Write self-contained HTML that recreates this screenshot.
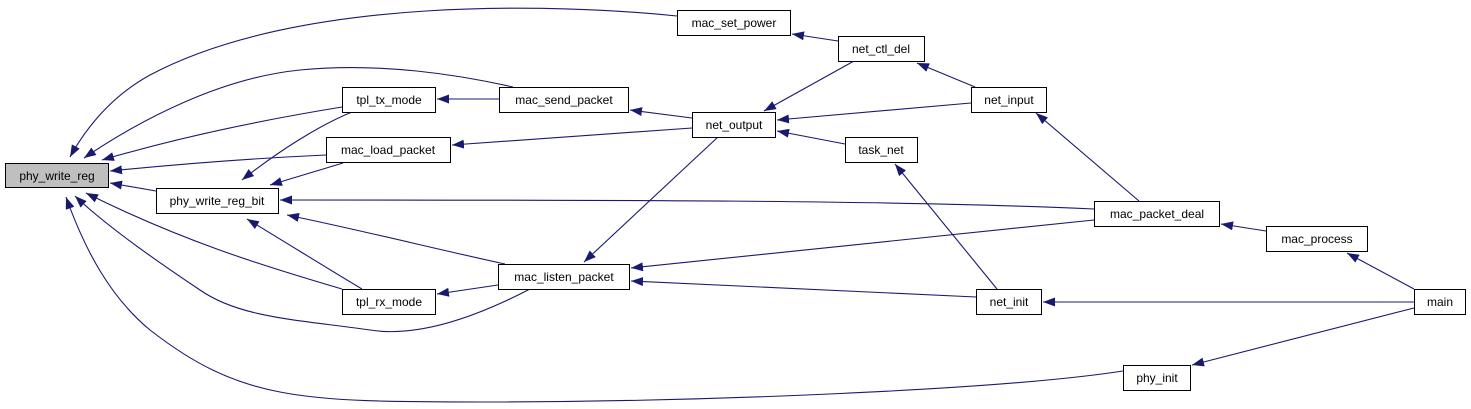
<!DOCTYPE html>
<html><head><meta charset="utf-8"><style>
html,body{margin:0;padding:0;background:#fff;}
svg{display:block;}
text{font-family:"Liberation Sans",Arial,sans-serif;font-size:12px;fill:#000;}
</style></head><body>
<svg width="1471" height="409" viewBox="0 0 1471 409" xmlns="http://www.w3.org/2000/svg">
<defs>
<marker id="a" viewBox="0 0 12 9" refX="12" refY="4.5" markerWidth="12" markerHeight="9" markerUnits="userSpaceOnUse" orient="auto">
<path d="M0,0 L12,4.5 L0,9 z" fill="#191970"/>
</marker>
</defs>
<g fill="none" stroke="#191970" stroke-width="1.1" marker-end="url(#a)">
<path d="M677,16 C560,4 300,-5 150,75 C110,97 85,130 70,157"/>
<path d="M513,87 C460,75 380,62 300,70 C220,78 140,120 84,158"/>
<path d="M342,107 C250,122 170,140 102,160"/>
<path d="M326,155 C260,158 180,164 110,171"/>
<path d="M156,191 L110,183"/>
<path d="M342,289 C260,265 180,240 86,193"/>
<path d="M530,289 C480,315 420,338 370,330 C300,320 240,318 200,290 C140,250 100,220 75,196"/>
<path d="M1123,371 C1000,390 700,402 480,402 C300,402 240,400 150,330 C110,297 85,250 66,197"/>
<path d="M352,112 C320,125 280,150 242,180"/>
<path d="M343,163 L270,185"/>
<path d="M1094,209 C900,200 600,200 280,200"/>
<path d="M505,264 C440,250 360,230 287,215"/>
<path d="M362,289 C330,270 290,245 247,219"/>
<path d="M499,99 L437,99"/>
<path d="M498,285 L437,294"/>
<path d="M692,128 L452,145"/>
<path d="M692,118 L630,110"/>
<path d="M838,41 L792,34"/>
<path d="M854,61 L764,111"/>
<path d="M971,103 L777,120"/>
<path d="M845,144 L777,131"/>
<path d="M718,137 L584,262"/>
<path d="M975,87 L917,63"/>
<path d="M1139,201 L1036,113"/>
<path d="M997,289 L895,164"/>
<path d="M1094,220 L631,268"/>
<path d="M976,297 L631,281"/>
<path d="M1266,231 L1221,224"/>
<path d="M1414,289 L1347,253"/>
<path d="M1414,302 L1043,302"/>
<path d="M1414,308 L1192,365"/>
</g>
<g stroke="#000" stroke-width="1" fill="#fff">
<rect x="5.5" y="163.5" width="103" height="24" fill="#bfbfbf"/>
<rect x="342.5" y="87.5" width="93" height="25"/>
<rect x="326.5" y="137.5" width="124" height="25"/>
<rect x="156.5" y="188.5" width="122" height="25"/>
<rect x="342.5" y="289.5" width="93" height="25"/>
<rect x="677.5" y="10.5" width="113" height="25"/>
<rect x="838.5" y="36.5" width="86" height="25"/>
<rect x="499.5" y="87.5" width="129" height="25"/>
<rect x="692.5" y="112.5" width="83" height="25"/>
<rect x="971.5" y="87.5" width="75" height="25"/>
<rect x="845.5" y="137.5" width="72" height="25"/>
<rect x="498.5" y="264.5" width="131" height="25"/>
<rect x="976.5" y="289.5" width="65" height="25"/>
<rect x="1094.5" y="201.5" width="125" height="25"/>
<rect x="1266.5" y="226.5" width="101" height="25"/>
<rect x="1414.5" y="289.5" width="51" height="25"/>
<rect x="1123.5" y="365.5" width="67" height="25"/>
</g>
<g text-anchor="middle">
<text x="57" y="180">phy_write_reg</text>
<text x="389" y="104">tpl_tx_mode</text>
<text x="388" y="154">mac_load_packet</text>
<text x="217" y="205">phy_write_reg_bit</text>
<text x="389" y="306">tpl_rx_mode</text>
<text x="734" y="27">mac_set_power</text>
<text x="881" y="53">net_ctl_del</text>
<text x="564" y="104">mac_send_packet</text>
<text x="734" y="129">net_output</text>
<text x="1009" y="104">net_input</text>
<text x="881" y="154">task_net</text>
<text x="564" y="281">mac_listen_packet</text>
<text x="1009" y="306">net_init</text>
<text x="1157" y="218">mac_packet_deal</text>
<text x="1317" y="243">mac_process</text>
<text x="1440" y="306">main</text>
<text x="1157" y="382">phy_init</text>
</g>
</svg>
</body></html>
